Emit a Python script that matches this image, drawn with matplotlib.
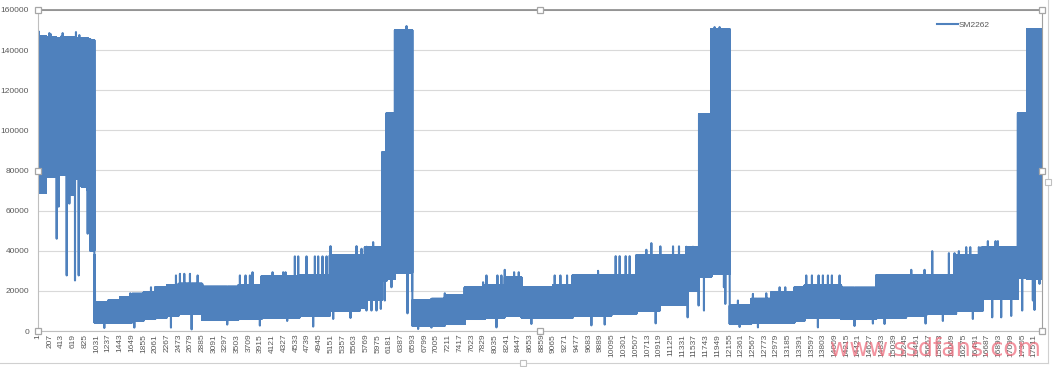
import numpy as np
import matplotlib
matplotlib.use("Agg")
import matplotlib.pyplot as plt
from matplotlib.lines import Line2D

plt.rcParams['font.family'] = ['Liberation Sans', 'DejaVu Sans']

# ---------------- data ----------------
SERIES_NAME = "SM2262"
N_POINTS = 17650
TICK_STEP = 206
y_ticks = [0, 20000, 40000, 60000, 80000, 100000, 120000, 140000, 160000]

# dense band of the trace: first sample of each stretch, top and bottom of the band
block_start = [0, 140, 182, 205, 316, 416, 434, 521, 640, 744, 767, 873, 920,
               990, 1236, 1441, 1652, 1857, 2062, 2267, 2472, 2888, 3520, 3930,
               4600, 5130, 5657, 5745,
               6050, 6126, 6273,
               6580, 6916, 7150, 7502, 7853, 8205, 8498, 9054, 9405, 10079,
               10518, 10928, 11400,
               11620, 11836,
               12160, 12539, 12890, 13300, 13476, 14120, 14736, 15263, 15614,
               16141, 16609,
               17225, 17390]
block_hi = [147000, 146500, 146500, 146500, 146000, 147000, 146500, 146500, 146000, 146000, 146000, 145500, 145000,
            14300, 15200, 16800, 18500, 19300, 21800, 22700, 23500, 22000, 22700, 27300,
            27700, 37700, 37700, 41800,
            89000, 108500, 150000,
            15200, 16000, 17700, 21800, 22700, 26800, 21800, 22700, 27700, 27700,
            37700, 37700, 41800,
            108000, 150500,
            12700, 16000, 19300, 21800, 22700, 21500, 27700, 27700, 27700,
            37700, 41800,
            108500, 150500]
block_lo = [69000, 77000, 93500, 77000, 78000, 96000, 78000, 68000, 76000, 106000, 72000, 70000, 40000,
            4300, 4300, 4300, 5200, 6000, 6800, 7700, 8500, 5500, 6000, 6800,
            7700, 10200, 11800, 15500,
            25000, 26000, 29000,
            2700, 2700, 3500, 6000, 6800, 7700, 6800, 6800, 7700, 8500,
            10200, 13000, 20000,
            27000, 28500,
            3500, 4300, 4300, 5200, 6800, 6000, 6800, 7700, 8500,
            10200, 16000,
            26800, 26000]

# single samples that stick out of the band
spike_idx = [12, 199, 222, 433, 667, 726,
             328, 363, 504, 551, 650, 715, 873, 995, 1001,
             1165, 1622, 1693, 1986, 2337, 2425, 2495, 2571, 2671, 2700, 2806,
             3326, 3549, 3648, 3725, 3771, 3900, 4123, 4310, 4351, 4380, 4515, 4574,
             4720, 4837, 4867, 4925, 5001, 5072, 5142, 5189, 5493, 5599, 5687, 5775,
             5774, 5862, 5891, 5950, 6026, 6096, 6213, 6478, 6495, 6550, 6565, 6575,
             6682, 6916, 7151, 7824, 7883, 8059, 8076, 8146, 8205, 8369, 8451, 8673,
             9083, 9183, 9300, 9394, 9728, 9845, 9962, 10155, 10225, 10331, 10401,
             10694, 10782, 10858, 10940, 11163, 11268, 11397, 11420, 11514,
             11613, 11707, 11894, 11982, 12058, 12082, 12150, 12158,
             12304, 12334, 12568, 12656, 12802, 13037, 13136, 13505, 13605, 13710,
             13722, 13798, 13886, 13956, 14091, 14354,
             14677, 14882, 15351, 15585, 15603, 15720, 15907, 16013, 16112, 16188,
             16317, 16388, 16434, 16540, 16581, 16698, 16774, 16833, 16874, 16932,
             17108, 17301, 17489, 17518, 17606]
spike_val = [149300, 148500, 148000, 148500, 149000, 147500,
             46000, 62000, 27700, 63500, 25200, 27700, 48500, 38000, 21000,
             1500, 18800, 1700, 21800, 1700, 27700, 28500, 28500, 28500, 800, 27700,
             3200, 27700, 27700, 27700, 29300, 2700, 29300, 29300, 29300, 5000, 37200, 37200,
             37200, 2200, 37200, 37200, 37200, 37200, 42300, 6000, 6500, 42300, 41000, 42000,
             10200, 10200, 44300, 10200, 11000, 15200, 21800, 152000, 8800, 73500, 38000, 20000,
             1000, 1700, 18800, 24300, 27700, 1800, 27700, 27700, 30500, 29300, 29300, 3500,
             27700, 27700, 27700, 27700, 2800, 30000, 3200, 37300, 37300, 37300, 37300,
             40500, 43800, 3800, 42200, 42200, 42200, 42000, 6800, 42000,
             12700, 10200, 151500, 151500, 21800, 13500, 48000, 41000,
             15200, 2000, 18500, 1800, 18800, 21800, 21800, 27700, 27700, 1800,
             27700, 27700, 27700, 27700, 27700, 2500,
             3700, 3500, 30500, 30500, 3700, 39800, 5000, 38800, 38800, 39800,
             41800, 41800, 6000, 41800, 41800, 44800, 6800, 44800, 44800, 6800,
             7500, 10200, 15200, 10500, 23500]

# ---------------- series assembly ----------------
values = np.empty(N_POINTS)
edges = block_start + [N_POINTS]
for s, e, hi, lo in zip(block_start, edges[1:], block_hi, block_lo):
    idx = np.arange(s, e)
    values[s:e] = np.where(idx % 2 == 0, hi, lo)
values[np.array(spike_idx)] = np.array(spike_val, dtype=float)
x = np.arange(1, N_POINTS + 1)

# ---------------- figure ----------------
W, H = 1053, 367
fig = plt.figure(figsize=(W / 100, H / 100), dpi=100)
fig.patch.set_facecolor('white')
L, R, T, B = 38, 1042, 10, 331
ax = fig.add_axes([L / W, 1 - B / H, (R - L) / W, (B - T) / H])

ax.plot(x, values, color='#4f81bd', lw=1.5, label=SERIES_NAME, zorder=3)

ax.set_xlim(0.5, N_POINTS + 0.5)
ax.set_ylim(0, 160000)
ax.set_yticks(y_ticks)
ax.set_yticklabels([str(v) for v in y_ticks])
xt = list(range(1, N_POINTS + 1, TICK_STEP))
ax.set_xticks(xt)
ax.set_xticklabels([str(v) for v in xt])
ax.tick_params(axis='y', length=0, pad=6.5, labelsize=6, labelcolor='#595959')
ax.tick_params(axis='x', length=0, pad=2, labelsize=6, labelcolor='#595959',
               labelrotation=90)

ax.yaxis.grid(True, color='#d9d9d9', lw=0.8)
ax.set_axisbelow(True)
ax.spines['top'].set_color('#808080')
ax.spines['top'].set_linewidth(1.1)
ax.spines['right'].set_color('#a0a0a0')
ax.spines['left'].set_color('#bfbfbf')
ax.spines['bottom'].set_color('#bfbfbf')
for sp in ax.spines.values():
    sp.set_zorder(4)

# selection handles of the plot area
hx = [0, 0.5, 1, 0, 1, 0, 0.5, 1]
hy = [0, 0, 0, 0.5, 0.5, 1, 1, 1]
ax.plot(hx, hy, ls='none', marker='s', ms=5, mfc='white', mec='#a6a6a6', mew=0.9,
        transform=ax.transAxes, clip_on=False, zorder=6)

# outer chart frame with its handles
fig.add_artist(Line2D([1048 / W, 1048 / W], [1 - 363 / H, 1], color='#d0d0d0', lw=0.8))
fig.add_artist(Line2D([0, 1048 / W], [1 - 363 / H, 1 - 363 / H], color='#d0d0d0', lw=0.8))
fig.add_artist(Line2D([523 / W, 1048 / W], [1 - 363 / H, 1 - 182 / H],
                      ls='none', marker='s', ms=4, mfc='white', mec='#c0c0c0', mew=0.8))

ax.legend(loc='center left', bbox_to_anchor=(936.7 / W, 1 - 24.7 / H),
          bbox_transform=fig.transFigure, frameon=False, borderpad=0,
          borderaxespad=0, handlelength=2.5, handletextpad=0.15,
          fontsize=6, labelcolor='#595959')

# watermark
fig.text(830 / W, 1 - 349 / H, 'www.ssdfans.com', fontsize=17, color='#f07080',
         alpha=0.75, va='center', ha='left', family='DejaVu Sans', zorder=10)

fig.savefig('out.png', dpi=100, facecolor='white')
